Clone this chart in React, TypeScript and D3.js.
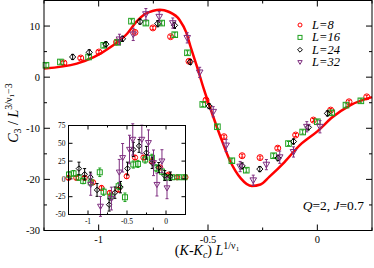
import React from "react";
import * as d3 from "d3";

// main plot data: [x, y, err]
const curve: [number, number][] = [
  [-1.25, 1.7], [-1.1, 2.65], [-1.02, 3.95], [-0.945, 5.9], [-0.87, 8.5], [-0.826, 10.9],
  [-0.79, 12.3], [-0.75, 13.0], [-0.72, 13.2], [-0.68, 12.8], [-0.63, 11.2], [-0.6, 8.8],
  [-0.58, 6.0], [-0.55, 2.0], [-0.52, -2.2], [-0.476, -7.75], [-0.44, -12.0], [-0.4, -16.3],
  [-0.35, -19.8], [-0.3, -21.3], [-0.26, -21.0], [-0.22, -19.5], [-0.15, -16.6], [-0.08, -13.3],
  [0, -10.6], [0.07, -7.8], [0.15, -5.5], [0.25, -3.9],
];

const L8: [number, number, number][] = [
  [-1.159, 2.78, 0.3], [-1.082, 3.75, 0.3], [-0.999, 4.92, 0.3], [-0.918, 6.87, 0.3], [-0.834, 8.76, 0.3],
  [-0.752, 9.64, 0.3], [-0.671, 7.92, 0.3], [-0.587, 3.11, 0.3], [-0.509, -4.49, 0.3], [-0.427, -11.65, 0.3],
  [-0.344, -15.37, 0.3], [-0.262, -15.74, 0.3], [-0.181, -13.89, 0.3], [-0.099, -11.32, 0.3], [-0.018, -8.39, 0.3],
  [0.061, -6.44, 0.3], [0.145, -4.82, 0.3], [0.226, -3.85, 0.3],
];
const L16: [number, number, number][] = [
  [-1.241, 2.33, 0.4], [-1.175, 2.97, 0.4], [-1.046, 3.95, 0.4], [-0.977, 6.23, 0.4], [-0.913, 6.81, 0.4],
  [-0.85, 10.96, 0.4], [-0.784, 10.58, 0.4], [-0.712, 10.58, 0.4], [-0.652, 8.31, 0.4], [-0.594, 4.77, 0.4],
  [-0.524, -5.33, 0.4], [-0.457, -9.7, 0.4], [-0.391, -16.35, 0.4], [-0.325, -18.2, 0.4], [-0.2, -15.37, 0.4],
  [-0.132, -12.99, 0.4], [-0.067, -10.73, 0.4], [0.0, -8.72, 0.4], [0.066, -6.97, 0.4], [0.131, -5.47, 0.4],
  [0.199, -4.63, 0.4],
];
const L24: [number, number, number][] = [
  [-1.119, 3.95, 0.5], [-1.043, 4.86, 0.5], [-0.967, 6.46, 0.5], [-0.891, 7.5, 0.5], [-0.811, 10.87, 0.5],
  [-0.73, 10.46, 0.6], [-0.653, 10.13, 0.6], [-0.581, 2.97, 0.5], [-0.495, -5.66, 0.5], [-0.344, -17.36, 0.6],
  [-0.263, -17.98, 0.5], [-0.18, -15.84, 0.5], [-0.109, -12.58, 0.5], [-0.041, -9.81, 0.5], [0.046, -7.09, 0.5],
];
const L32: [number, number, number][] = [
  [-0.905, 7.4, 1.0], [-0.842, 8.37, 1.2], [-0.784, 12.33, 1.1], [-0.723, 11.82, 1.0], [-0.661, 10.58, 1.0],
  [-0.595, 7.69, 1.0], [-0.538, 0.93, 1.0], [-0.476, -6.77, 1.0], [-0.417, -13.36, 1.2], [-0.353, -17.49, 1.0],
  [-0.293, -20.17, 1.0], [-0.233, -17.11, 1.0], [-0.172, -15.66, 1.2], [-0.109, -14.63, 1.0], [-0.048, -9.7, 1.0],
  [0.012, -9.7, 1.2],
];

// inset data
const in8: [number, number, number][] = [
  [-1.25, 1.4, 2], [-1.15, 1.4, 2], [-1.043, 1.4, 2], [-0.935, -4.8, 2], [-0.827, -12.7, 3], [-0.72, -19.7, 3],
  [-0.612, -15.1, 3], [-0.504, 3.7, 3], [-0.397, 30, 3], [-0.289, 30, 3], [-0.181, 24.8, 3], [-0.074, 16, 2],
  [0.034, 6, 2], [0.142, 2.3, 2], [0.249, 2.3, 2],
];
const in16: [number, number, number][] = [
  [-1.243, 6.1, 4], [-1.185, 7.8, 4], [-1.12, 2, 4], [-1.062, -2.8, 4], [-0.965, -5, 4], [-0.849, 9.3, 6],
  [-0.8, -18, 5], [-0.713, -25, 5], [-0.607, -10.3, 5], [-0.526, -25.8, 6], [-0.419, 20.2, 5], [-0.36, 21, 5],
  [-0.267, 27.2, 5], [-0.181, 29.6, 5], [-0.125, 15, 5], [-0.052, 10.3, 4], [0.004, 2, 4], [0.078, 2.3, 3],
  [0.163, 2.3, 3], [0.236, 2.3, 3],
];
const in24: [number, number, number][] = [
  [-1.116, 14.5, 9], [-1.043, 6.5, 8], [-0.969, 2.5, 7], [-0.884, -15.5, 9], [-0.729, -36.2, 9], [-0.655, -19.3, 8],
  [-0.584, -11.6, 8], [-0.494, 14.5, 9], [-0.419, 41.3, 10], [-0.345, 46.3, 9], [-0.251, 36.7, 9], [-0.177, 22.6, 8],
  [-0.093, 16, 7], [-0.016, 4.7, 7], [0.056, 3.7, 6],
];
const in32: [number, number, number][] = [
  [-0.965, -8, 15], [-0.84, -38.6, 14], [-0.7, -27.6, 16], [-0.599, 9.4, 18], [-0.556, 29.7, 20], [-0.468, 41.3, 20],
  [-0.426, 55.4, 22], [-0.31, 55.4, 20], [-0.225, 50.8, 18], [-0.16, 22.6, 18], [-0.116, -8, 16], [-0.052, 25, 16],
  [0.013, -12.8, 15],
];

const xTicks = [-1, -0.5, 0];
const xMinor = [-1.25, -0.75, -0.25, 0.25];
const yTicks = [-30, -20, -10, 0, 10];
const yMinor = [-25, -15, -5, 5, 15];
const inXTicks = [-1, -0.5, 0];
const inXMinor = [-0.75, -0.25];
const inYTicks = [-50, -25, 0, 25, 50, 75];

const RED = "#ff0000";
const GREEN = "#1fa11f";
const PURPLE = "#7f2f80";
const SERIF = "'Liberation Serif', 'DejaVu Serif', serif";

type Kind = "circle" | "square" | "diamond" | "tri";

function Marker({ kind, x, y, s, color }: { kind: Kind; x: number; y: number; s: number; color: string }) {
  const p = { fill: "none", stroke: color, strokeWidth: 1 };
  if (kind === "circle") return <circle cx={x} cy={y} r={s} {...p} />;
  if (kind === "square") return <rect x={x - s} y={y - s} width={2 * s} height={2 * s} {...p} />;
  if (kind === "diamond")
    return <path d={`M${x},${y - s * 1.2}L${x + s * 1.2},${y}L${x},${y + s * 1.2}L${x - s * 1.2},${y}Z`} {...p} />;
  return <path d={`M${x - s * 1.1},${y - s * 0.8}L${x + s * 1.1},${y - s * 0.8}L${x},${y + s * 1.1}Z`} {...p} />;
}

function Series({ data, kind, color, xs, ys, s }: any) {
  return (
    <g>
      {data.map((d: [number, number, number], i: number) => {
        const x = xs(d[0]);
        const y0 = ys(d[1] - d[2]);
        const y1 = ys(d[1] + d[2]);
        return (
          <g key={i}>
            <line x1={x} x2={x} y1={y0} y2={y1} stroke={color} strokeWidth={1} />
            <line x1={x - 1.5} x2={x + 1.5} y1={y0} y2={y0} stroke={color} strokeWidth={1} />
            <line x1={x - 1.5} x2={x + 1.5} y1={y1} y2={y1} stroke={color} strokeWidth={1} />
            <Marker kind={kind} x={x} y={ys(d[1])} s={s} color={color} />
          </g>
        );
      })}
    </g>
  );
}

export default function App() {
  const L = 44, R = 372, T = 0.5, B = 230.5;
  const x = d3.scaleLinear().domain([-1.25, 0.25]).range([L, R]);
  const y = d3.scaleLinear().domain([-30, 15]).range([B, T]);
  const iL = 68.5, iR = 185.5, iT = 125.5, iB = 214.5;
  const ix = d3.scaleLinear().domain([-1.25, 0.25]).range([iL, iR]);
  const iy = d3.scaleLinear().domain([-50, 75]).range([iB, iT]);
  const line = d3.line<[number, number]>().x(d => x(d[0])).y(d => y(d[1])).curve(d3.curveMonotoneX);

  const legend = [
    { label: "L=8", kind: "circle" as Kind, color: RED },
    { label: "L=16", kind: "square" as Kind, color: GREEN },
    { label: "L=24", kind: "diamond" as Kind, color: "#000" },
    { label: "L=32", kind: "tri" as Kind, color: PURPLE },
  ];

  return (
    <div style={{ position: "absolute", left: 0, top: 0 }}>
      <svg width={374} height={268} style={{ display: "block", fontFamily: SERIF }}>
        <rect width={374} height={268} fill="#fff" />
        <path d={line(curve) || ""} fill="none" stroke={RED} strokeWidth={2.5} />
        <Series data={L8} kind="circle" color={RED} xs={x} ys={y} s={3} />
        <Series data={L16} kind="square" color={GREEN} xs={x} ys={y} s={2.8} />
        <Series data={L24} kind="diamond" color="#000" xs={x} ys={y} s={2.6} />
        <Series data={L32} kind="tri" color={PURPLE} xs={x} ys={y} s={3} />

        {/* main frame and ticks */}
        <rect x={L} y={T} width={R - L} height={B - T} fill="none" stroke="#000" strokeWidth={1} />
        {xTicks.map(t => (
          <g key={"x" + t}>
            <line x1={x(t)} x2={x(t)} y1={B} y2={B - 6} stroke="#000" />
            <line x1={x(t)} x2={x(t)} y1={T} y2={T + 6} stroke="#000" />
            <text x={x(t)} y={B + 12} fontSize={10.5} textAnchor="middle">{t === 0 ? "0" : String(t)}</text>
          </g>
        ))}
        {xMinor.map(t => (
          <g key={"xm" + t}>
            <line x1={x(t)} x2={x(t)} y1={B} y2={B - 3} stroke="#000" />
            <line x1={x(t)} x2={x(t)} y1={T} y2={T + 3} stroke="#000" />
          </g>
        ))}
        {yTicks.map(t => (
          <g key={"y" + t}>
            <line x1={L} x2={L + 6} y1={y(t)} y2={y(t)} stroke="#000" />
            <line x1={R} x2={R - 6} y1={y(t)} y2={y(t)} stroke="#000" />
            <text x={L - 4} y={y(t) + 3.5} fontSize={10.5} textAnchor="end">{String(t)}</text>
          </g>
        ))}
        {yMinor.map(t => (
          <g key={"ym" + t}>
            <line x1={L} x2={L + 3} y1={y(t)} y2={y(t)} stroke="#000" />
            <line x1={R} x2={R - 3} y1={y(t)} y2={y(t)} stroke="#000" />
          </g>
        ))}

        {/* inset */}
        <rect x={iL} y={iT} width={iR - iL} height={iB - iT} fill="#fff" stroke="#000" strokeWidth={1} />
        <Series data={in8} kind="circle" color={RED} xs={ix} ys={iy} s={2.6} />
        <Series data={in16} kind="square" color={GREEN} xs={ix} ys={iy} s={2.5} />
        <Series data={in24} kind="diamond" color="#000" xs={ix} ys={iy} s={2.3} />
        <Series data={in32} kind="tri" color={PURPLE} xs={ix} ys={iy} s={2.7} />
        <rect x={iL} y={iT} width={iR - iL} height={iB - iT} fill="none" stroke="#000" strokeWidth={1} />
        {inXTicks.map(t => (
          <g key={"ix" + t}>
            <line x1={ix(t)} x2={ix(t)} y1={iB} y2={iB - 4} stroke="#000" />
            <line x1={ix(t)} x2={ix(t)} y1={iT} y2={iT + 4} stroke="#000" />
            <text x={ix(t)} y={iB + 9.5} fontSize={7.5} textAnchor="middle">{String(t)}</text>
          </g>
        ))}
        {inXMinor.map(t => (
          <g key={"ixm" + t}>
            <line x1={ix(t)} x2={ix(t)} y1={iB} y2={iB - 2} stroke="#000" />
            <line x1={ix(t)} x2={ix(t)} y1={iT} y2={iT + 2} stroke="#000" />
          </g>
        ))}
        {inYTicks.map(t => (
          <g key={"iy" + t}>
            <line x1={iL} x2={iL + 4} y1={iy(t)} y2={iy(t)} stroke="#000" />
            <line x1={iR} x2={iR - 4} y1={iy(t)} y2={iy(t)} stroke="#000" />
            <text x={iL - 3} y={iy(t) + 2.7} fontSize={7.5} textAnchor="end">{String(t)}</text>
          </g>
        ))}

        {/* legend */}
        {legend.map((d, i) => (
          <g key={d.label}>
            <Marker kind={d.kind} x={300} y={25 + i * 12.4} s={2} color={d.color} />
            <text x={312} y={29 + i * 12.4} fontSize={12.5} fontStyle="italic">{d.label}</text>
          </g>
        ))}

        <text x={364} y={210} fontSize={13.5} textAnchor="end">
          <tspan fontStyle="italic">Q</tspan>=2, <tspan fontStyle="italic">J</tspan>=0.7
        </text>

        {/* axis labels */}
        <text x={207} y={255} fontSize={14} textAnchor="middle">
          (<tspan fontStyle="italic">K</tspan>-<tspan fontStyle="italic">K</tspan>
          <tspan fontSize={10} dy={3} fontStyle="italic">c</tspan>
          <tspan dy={-3}>) </tspan>
          <tspan fontStyle="italic">L</tspan>
          <tspan fontSize={10} dy={-6}>1/ν</tspan>
          <tspan fontSize={7} dy={2}>1</tspan>
        </text>
        <text transform="translate(18,113) rotate(-90)" fontSize={14} textAnchor="middle">
          <tspan fontStyle="italic">C</tspan>
          <tspan fontSize={10} dy={3}>3</tspan>
          <tspan dy={-3}> / </tspan>
          <tspan fontStyle="italic">L</tspan>
          <tspan fontSize={10} dy={-6}>3/ν</tspan>
          <tspan fontSize={7} dy={2}>1</tspan>
          <tspan fontSize={10} dy={-2}>−3</tspan>
        </text>
      </svg>
    </div>
  );
}
